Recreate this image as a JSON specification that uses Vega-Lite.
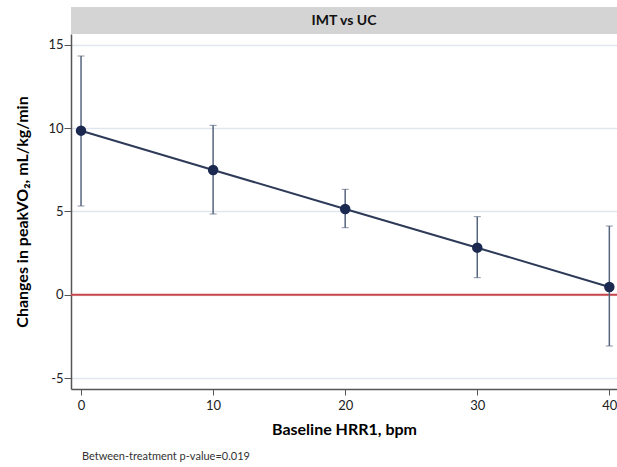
{
  "$schema": "https://vega.github.io/schema/vega-lite/v6.json",
  "background": "white",
  "padding": {"left": 14, "top": 7, "right": 0, "bottom": 0},
  "config": {
    "view": {"stroke": null},
    "font": "Lato",
    "concat": {"spacing": 0}
  },
  "title": {
    "text": "Between-treatment p-value=0.019",
    "orient": "bottom",
    "anchor": "start",
    "fontSize": 11,
    "fontWeight": "normal",
    "color": "#333333",
    "offset": 14,
    "dx": 67
  },
  "vconcat": [
    {
      "width": 546,
      "height": 27,
      "view": {"fill": "#d4d4d4", "stroke": null},
      "data": {"values": [{"label": "IMT vs UC"}]},
      "mark": {"type": "text", "fontWeight": "bold", "fontSize": 14, "color": "#111111"},
      "encoding": {"text": {"field": "label", "type": "nominal"}}
    },
    {
      "width": 546,
      "height": 355,
      "data": {
        "values": [
          {"hrr": 0, "mean": 9.84, "lo": 5.32, "hi": 14.32},
          {"hrr": 10, "mean": 7.48, "lo": 4.84, "hi": 10.16},
          {"hrr": 20, "mean": 5.14, "lo": 4.02, "hi": 6.32},
          {"hrr": 30, "mean": 2.82, "lo": 1.02, "hi": 4.68},
          {"hrr": 40, "mean": 0.46, "lo": -3.08, "hi": 4.12}
        ]
      },
      "layer": [
        {
          "data": {"values": [{"ref": 0}]},
          "mark": {"type": "rule", "color": "#c8464a", "strokeWidth": 2},
          "encoding": {
            "y": {
              "field": "ref",
              "type": "quantitative",
              "title": "Changes in peakVO₂, mL/kg/min",
              "scale": {"domain": [-5.66, 15.64], "nice": false, "zero": false},
              "axis": {
                "values": [-5, 0, 5, 10, 15],
                "labelExpr": "datum.value < 0 ? '-' + abs(datum.value) : '' + datum.value",
                "grid": true,
                "gridColor": "#e1e6ee",
                "gridWidth": 1.5,
                "domainColor": "#555555",
                "domainWidth": 1.5,
                "tickColor": "#555555",
                "tickSize": 7,
                "labelFontSize": 13,
                "labelColor": "#222222",
                "labelPadding": 1,
                "titleFontSize": 16,
                "titleFontWeight": "bold",
                "titleColor": "#000000",
                "titlePadding": 17
              }
            }
          }
        },
        {
          "mark": {
            "type": "errorbar",
            "ticks": {"size": 7, "color": "#56657f", "strokeWidth": 1.5},
            "rule": {"color": "#56657f", "strokeWidth": 1.5}
          },
          "encoding": {
            "x": {
              "field": "hrr",
              "type": "quantitative",
              "title": "Baseline HRR1, bpm",
              "scale": {"domain": [-0.76, 40.58], "nice": false, "zero": false},
              "axis": {
                "values": [0, 10, 20, 30, 40],
                "grid": false,
                "domainColor": "#555555",
                "domainWidth": 1.5,
                "tickColor": "#555555",
                "tickSize": 6,
                "labelFontSize": 13,
                "labelColor": "#222222",
                "labelPadding": 4,
                "titleFontSize": 16,
                "titleFontWeight": "bold",
                "titleColor": "#000000",
                "titlePadding": 9
              }
            },
            "y": {"field": "lo", "type": "quantitative", "title": "Changes in peakVO₂, mL/kg/min"},
            "y2": {"field": "hi"}
          }
        },
        {
          "mark": {"type": "line", "color": "#2d3a58", "strokeWidth": 2},
          "encoding": {
            "x": {"field": "hrr", "type": "quantitative", "title": "Baseline HRR1, bpm"},
            "y": {"field": "mean", "type": "quantitative", "title": "Changes in peakVO₂, mL/kg/min"}
          }
        },
        {
          "mark": {"type": "point", "filled": true, "opacity": 1, "size": 110, "color": "#1b2950"},
          "encoding": {
            "x": {"field": "hrr", "type": "quantitative", "title": "Baseline HRR1, bpm"},
            "y": {"field": "mean", "type": "quantitative", "title": "Changes in peakVO₂, mL/kg/min"}
          }
        }
      ]
    }
  ]
}
